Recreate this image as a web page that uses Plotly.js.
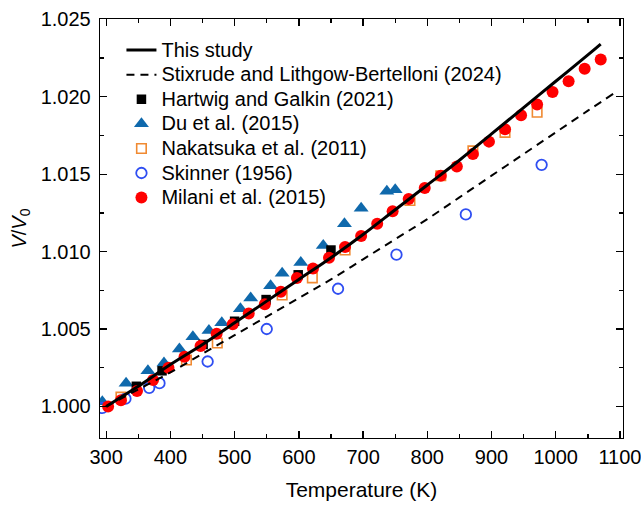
<!DOCTYPE html>
<html>
<head>
<meta charset="utf-8">
<script src="https://cdn.plot.ly/plotly-3.0.1.min.js"></script>
<style>
html, body { margin: 0; padding: 0; background: #fff; }
#chart { width: 641px; height: 505px; }
</style>
</head>
<body>
<div id="chart"></div>
<script>
// This study (solid curve)
const studyT = [300, 350, 400, 450, 500, 550, 600, 650, 700, 750, 800, 850, 900, 950, 1000, 1050, 1070];
const studyV = [1.0000, 1.0013, 1.0027, 1.0040, 1.0054, 1.0068, 1.0082, 1.0096, 1.0111, 1.0127, 1.0143, 1.0159, 1.0176, 1.0193, 1.0210, 1.0227, 1.0234];

// Stixrude and Lithgow-Bertelloni (2024) (dashed curve)
const stixT = [300, 350, 400, 450, 500, 550, 600, 650, 700, 750, 800, 850, 900, 950, 1000, 1050, 1090];
const stixV = [1.0000, 1.0011, 1.0022, 1.0034, 1.0046, 1.0058, 1.0070, 1.0082, 1.0095, 1.0108, 1.0121, 1.0135, 1.0149, 1.0163, 1.0177, 1.0191, 1.0202];

// Hartwig and Galkin (2021)
const hartT = [347, 387, 451, 500, 549, 599, 650];
const hartV = [1.0013, 1.0023, 1.0040, 1.0055, 1.0069, 1.0085, 1.0101];

// Du et al. (2015)
const duT = [294, 331, 365, 390, 414, 435, 460, 480, 509, 525, 556, 574, 603, 638, 671, 697, 737, 750];
const duV = [1.0003, 1.0015, 1.0023, 1.0028, 1.0037, 1.0045, 1.0049, 1.0054, 1.0063, 1.0070, 1.0078, 1.0086, 1.0093, 1.0104, 1.0118, 1.0128, 1.0139, 1.0140];

// Nakatsuka et al. (2011)
const nakT = [323, 425, 473, 574, 621, 672, 773, 821, 871, 921, 971];
const nakV = [1.0006, 1.0030, 1.0041, 1.0072, 1.0083, 1.0101, 1.0133, 1.0149, 1.0165, 1.0177, 1.0190];

// Skinner (1956)
const skinT = [294, 330, 367, 383, 458, 550, 661, 752, 860, 978];
const skinV = [0.9999, 1.0005, 1.0012, 1.0015, 1.0029, 1.0050, 1.0076, 1.0098, 1.0124, 1.0156];

// Milani et al. (2015)
const milT = [303, 323, 348, 373, 397, 422, 447, 472, 497, 522, 547, 572, 597, 622, 647, 672, 697, 722, 746, 771, 796, 821, 846, 871, 896, 921, 946, 971, 995, 1020, 1045, 1070];
const milV = [1.0000, 1.0004, 1.0010, 1.0017, 1.0025, 1.0032, 1.0039, 1.0047, 1.0053, 1.0060, 1.0066, 1.0074, 1.0083, 1.0089, 1.0096, 1.0103, 1.0110, 1.0118, 1.0126, 1.0134, 1.0141, 1.0149, 1.0155, 1.0163, 1.0171, 1.0179, 1.0188, 1.0195, 1.0203, 1.0210, 1.0218, 1.0224];

const FONT = 'Liberation Sans, Arial, sans-serif';
const lg = s => '<span style="font-size:20px">' + s + '</span>';

const traces = [
  { x: duT, y: duV, mode: 'markers', name: lg('Du et al. (2015)'), legendrank: 4,
    marker: { symbol: 'triangle-up', size: 13, color: '#0f69ac' } },
  { x: skinT, y: skinV, mode: 'markers', name: lg('Skinner (1956)'), legendrank: 6,
    marker: { symbol: 'circle-open', size: 10.5, color: '#2f4ef2', line: { width: 1.8 } } },
  { x: nakT, y: nakV, mode: 'markers', name: lg('Nakatsuka et al. (2011)'), legendrank: 5,
    marker: { symbol: 'square-open', size: 9.5, color: '#f08a32', line: { width: 1.6 } } },
  { x: hartT, y: hartV, mode: 'markers', name: lg('Hartwig and Galkin (2021)'), legendrank: 3,
    marker: { symbol: 'square', size: 9.5, color: '#000000' } },
  { x: milT, y: milV, mode: 'markers', name: lg('Milani et al. (2015)'), legendrank: 7,
    marker: { symbol: 'circle', size: 12, color: '#ff0000' } },
  { x: stixT, y: stixV, mode: 'lines', name: lg('Stixrude and Lithgow-Bertelloni (2024)'), legendrank: 2,
    line: { color: '#000', width: 2, dash: '8px,6px', shape: 'spline' } },
  { x: studyT, y: studyV, mode: 'lines', name: lg('This study'), legendrank: 1,
    line: { color: '#000', width: 3, shape: 'spline' } }
];

const axisCommon = {
  showgrid: false, zeroline: false,
  showline: true, linecolor: '#000', linewidth: 1.3,
  mirror: 'ticks',
  ticks: 'inside', ticklen: 7, tickwidth: 1.3, tickcolor: '#000',
  tickfont: { family: FONT, size: 20, color: '#000' }
};

const layout = {
  width: 641, height: 505,
  margin: { l: 100, r: 18, t: 19, b: 67 },
  paper_bgcolor: '#fff', plot_bgcolor: '#fff',
  font: { family: FONT, size: 20, color: '#000' },
  showlegend: true,
  legend: {
    x: 0.041, y: 0.967, xanchor: 'left', yanchor: 'top',
    bgcolor: 'rgba(0,0,0,0)', borderwidth: 0,
    font: { family: FONT, size: 16.6, color: '#000' },
    traceorder: 'normal'
  },
  xaxis: Object.assign({}, axisCommon, {
    range: [290.4, 1104.7],
    tick0: 300, dtick: 100,
    ticklabelstandoff: 1,
    ticklabeloverflow: 'allow',
    minor: { dtick: 50, tick0: 300, ticks: 'inside', ticklen: 4, tickwidth: 1.3, tickcolor: '#000' },
    title: { text: 'Temperature (K)', font: { family: FONT, size: 21 }, standoff: 15 }
  }),
  yaxis: Object.assign({}, axisCommon, {
    range: [0.99796, 1.02502],
    tick0: 1.0, dtick: 0.005, tickformat: '.3f',
    ticklabelstandoff: 4,
    minor: { dtick: 0.0025, tick0: 1.0, ticks: 'inside', ticklen: 4, tickwidth: 1.3, tickcolor: '#000' },
    title: { text: '<i>V</i>/<i>V</i><sub>0</sub>', font: { family: FONT, size: 20 }, standoff: 8 }
  })
};

Plotly.newPlot('chart', traces, layout, { displayModeBar: false, staticPlot: true });
</script>
</body>
</html>
